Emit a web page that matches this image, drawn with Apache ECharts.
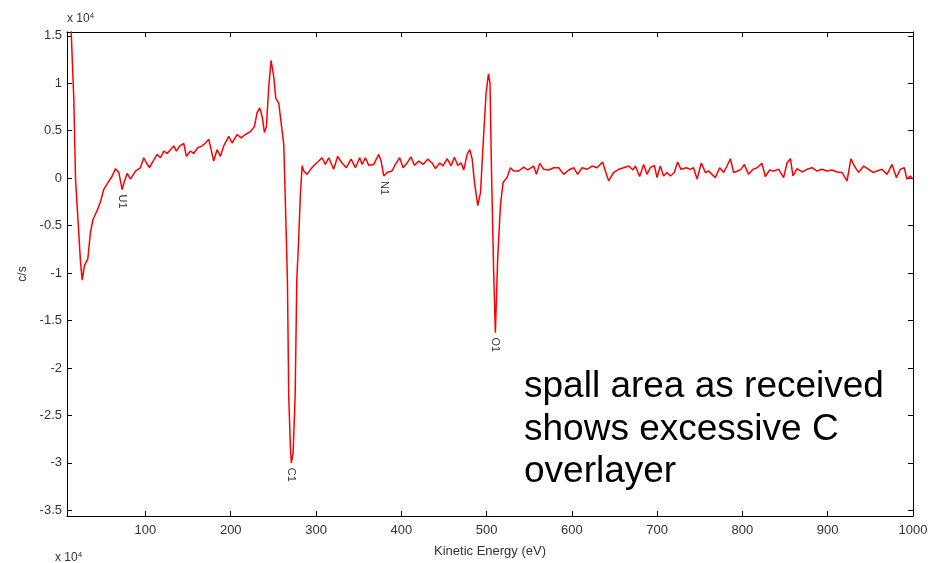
<!DOCTYPE html>
<html>
<head>
<meta charset="utf-8">
<script src="https://cdn.jsdelivr.net/npm/echarts@6.0.0/dist/echarts.min.js"></script>
<style>
	html, body {margin: 0; padding: 0; background: #fff;}
	#main {width: 945px; height: 563px;}
</style>
</head>
<body>
<div id="main"></div>
<script>
// kinetic energy (eV) and signal (c/s, x 10^4)
const energy = [
	12, 16, 18, 20.6, 23.8, 25.8, 28.5, 32.4, 35.5, 38.7, 43.4, 47.2, 51.1, 55, 60.9, 64.8, 68.7, 72.7, 75.4, 78.5,
	82.4, 88.3, 94.1, 98, 101.1, 104.8, 109, 113.7, 117.6, 121.5, 125.4, 129.3, 133.2, 136.3, 140.2, 144.9, 148, 152.7, 156.6, 161.3,
	166.5, 170.3, 174.2, 177, 180, 184, 187.9, 191.8, 197.7, 201.6, 207.5, 212.2, 217.2, 223.1, 227.8, 230.9, 234, 236.8, 239.5, 241.8,
	244.6, 247.3, 250.4, 252.8, 256.3, 258.2, 262.2, 264.8, 266.5, 268, 270, 271.1, 273.1, 275.5, 277.5, 279.7, 281.5, 283.7, 285.6, 289.5,
	293.4, 297.3, 303.2, 307, 310.9, 314.9, 320.7, 325.4, 330.5, 335.6, 341.1, 346.2, 351.2, 354, 357.9, 361.8, 367.7, 373.5, 376.3, 379.4,
	383.3, 389.1, 393, 398.1, 402.1, 406.8, 411.4, 415.4, 420.4, 425.5, 430.9, 436.1, 440, 445, 449, 453.7, 458.4, 462.3, 466.2, 470.2,
	473.2, 477.2, 480.3, 483.1, 485.8, 489.7, 492.9, 496.7, 499.4, 502.2, 504, 505.8, 508.3, 510.3, 513, 516.2, 519.3, 524, 527.9, 531.8,
	537.6, 543.5, 548.2, 555.2, 558.4, 562.3, 567, 572.8, 578.7, 584.5, 590.4, 596.3, 602.1, 606.8, 612, 617.8, 623.7, 629.5, 636.1, 639.3,
	643.2, 649, 654.9, 660.7, 666.6, 671.7, 674.4, 679.5, 684.2, 688.1, 692, 696.7, 699.8, 703.7, 707.6, 711.5, 715.4, 720.1, 724, 727.9,
	734.2, 738.8, 742.6, 746.8, 751.8, 756.5, 760.4, 764.3, 768.2, 773.3, 778, 781.9, 785.8, 789.7, 794.3, 798.3, 802.2, 807.2, 812.4, 817.1,
	822.9, 826.8, 831.9, 836.6, 842.5, 848.3, 852.3, 856.2, 859.3, 864, 869.9, 875.7, 881.6, 887.5, 893.3, 899.2, 905, 910.9, 916.8, 922.6,
	927.3, 931.2, 936.2, 942.1, 948, 953.1, 957.8, 963.6, 969.5, 975.4, 980.4, 985.1, 989.8, 992.9, 996.8, 1000
];
const counts = [
	1.75, 0.83, -0.01, -0.40, -0.88, -1.075, -0.92, -0.85, -0.57, -0.43, -0.34, -0.25, -0.12, -0.06, 0.02, 0.10, 0.06, -0.12, -0.03, 0.05,
	-0.01, 0.075, 0.11, 0.215, 0.16, 0.11, 0.18, 0.25, 0.215, 0.285, 0.26, 0.30, 0.34, 0.285, 0.34, 0.365, 0.23, 0.285, 0.26, 0.32,
	0.34, 0.37, 0.41, 0.30, 0.18, 0.30, 0.23, 0.34, 0.44, 0.37, 0.46, 0.425, 0.46, 0.49, 0.545, 0.69, 0.74, 0.65, 0.48, 0.545,
	0.965, 1.24, 1.07, 0.84, 0.79, 0.79, 0.35, -0.50, -1.1, -2.3, -2.85, -3.0, -2.9, -2.3, -1.06, -0.64, -0.2, 0.13, 0.075, 0.04,
	0.09, 0.13, 0.18, 0.215, 0.145, 0.215, 0.093, 0.23, 0.16, 0.11, 0.20, 0.11, 0.215, 0.145, 0.215, 0.135, 0.145, 0.25, 0.18, 0.023,
	0.06, 0.075, 0.145, 0.215, 0.11, 0.16, 0.225, 0.135, 0.18, 0.145, 0.20, 0.16, 0.10, 0.16, 0.13, 0.205, 0.13, 0.22, 0.135, 0.16,
	0.085, 0.25, 0.30, 0.20, -0.045, -0.29, -0.15, 0.48, 0.895, 1.10, 1.00, 0.06, -0.99, -1.63, -0.85, -0.29, -0.046, 0.006, 0.11, 0.075,
	0.075, 0.117, 0.086, 0.128, 0.04, 0.156, 0.093, 0.086, 0.11, 0.11, 0.04, 0.086, 0.11, 0.04, 0.11, 0.093, 0.128, 0.11, 0.17, 0.075,
	-0.03, 0.06, 0.093, 0.11, 0.128, 0.086, 0.128, 0.017, 0.145, 0.04, 0.11, 0.135, 0.006, 0.128, 0.023, 0.06, 0.023, 0.06, 0.17, 0.093,
	0.11, 0.093, 0.11, -0.01, 0.16, 0.06, 0.075, 0.04, 0.006, 0.11, 0.06, 0.128, 0.205, 0.06, 0.075, 0.093, 0.145, 0.04, 0.093, 0.11,
	0.156, 0.017, 0.086, 0.075, 0.093, 0.006, 0.16, 0.205, 0.023, 0.10, 0.065, 0.093, 0.11, 0.075, 0.093, 0.075, 0.086, 0.065, 0.06, -0.03,
	0.205, 0.128, 0.06, 0.128, 0.093, 0.06, 0.075, 0.093, 0.04, 0.145, 0.006, 0.093, 0.11, -0.01, 0.023, -0.01
];

// peak labels
const peakNames = ["U1", "C1", "N1", "O1"];
const peakEnergy = [72.7, 271.1, 379.4, 510.3];
const peakCounts = [-0.12, -3.0, 0.023, -1.63];

const xTicks = [100, 200, 300, 400, 500, 600, 700, 800, 900, 1000];
const yTicks = [-3.5, -3, -2.5, -2, -1.5, -1, -0.5, 0, 0.5, 1, 1.5];

const font = "Liberation Sans, Arial, sans-serif";
const tickColor = "#333";

function frameAxis(extra) {
	return Object.assign({
		type: 'value',
		axisLine: {show: true, onZero: false, lineStyle: {color: '#000', width: 1}},
		splitLine: {show: false},
	}, extra);
}

let myChart = echarts.init(document.getElementById('main'));
let option = {
	backgroundColor: '#fff',
	animation: false,
	grid: {left: 67, top: 32, right: 32, bottom: 42},
	xAxis: [
		frameAxis({
			min: 8, max: 1000,
			name: 'Kinetic Energy (eV)',
			nameLocation: 'middle',
			nameGap: 29,
			nameTextStyle: {fontFamily: font, fontSize: 13, color: tickColor},
			axisTick: {show: true, inside: true, length: 5, customValues: xTicks, lineStyle: {color: '#000'}},
			axisLabel: {show: true, customValues: xTicks, margin: 8, fontFamily: font, fontSize: 13, color: tickColor,
				formatter: v => String(v)},
		}),
		frameAxis({
			position: 'top', min: 8, max: 1000,
			axisTick: {show: true, inside: true, length: 5, customValues: xTicks, lineStyle: {color: '#000'}},
			axisLabel: {show: false},
		}),
	],
	yAxis: [
		frameAxis({
			min: -3.56, max: 1.54,
			name: 'c/s',
			nameLocation: 'middle',
			nameGap: 37,
			nameRotate: 90,
			nameTextStyle: {fontFamily: font, fontSize: 12, color: tickColor},
			axisTick: {show: true, inside: true, length: 5, customValues: yTicks, lineStyle: {color: '#000'}},
			axisLabel: {show: true, customValues: yTicks, margin: 5, fontFamily: font, fontSize: 13, color: tickColor},
		}),
		frameAxis({
			position: 'right', min: -3.56, max: 1.54,
			axisTick: {show: true, inside: true, length: 5, customValues: yTicks, lineStyle: {color: '#000'}},
			axisLabel: {show: false},
		}),
	],
	series: [{
		type: 'line',
		data: energy.map((e, i) => [e, counts[i]]),
		showSymbol: false,
		clip: true,
		lineStyle: {color: '#ff0000', width: 1.5},
		markPoint: {
			symbol: 'circle',
			symbolSize: 1,
			itemStyle: {color: 'rgba(0,0,0,0)'},
			label: {
				// offset is turned with the text, so x here means "down"
				show: true, position: 'inside', rotate: -90, offset: [12, 0],
				formatter: '{b}', fontFamily: font, fontSize: 11, color: tickColor
			},
			data: peakNames.map((n, i) => ({name: n, coord: [peakEnergy[i], peakCounts[i]]}))
		}
	}],
	graphic: [
		{
			type: 'text', left: 67, top: 12,
			style: {
				text: 'x 10{sup|4}', fontFamily: font, fontSize: 12, fill: tickColor,
				rich: {sup: {fontSize: 8, verticalAlign: 'top', padding: [0, 0, 6, 0], fill: tickColor}}
			}
		},
		{
			type: 'text', left: 55, top: 551,
			style: {
				text: 'x 10{sup|4}', fontFamily: font, fontSize: 12, fill: tickColor,
				rich: {sup: {fontSize: 8, verticalAlign: 'top', padding: [0, 0, 6, 0], fill: tickColor}}
			}
		},
		{
			type: 'text', left: 524, top: 366,
			style: {
				text: 'spall area as received\nshows excessive C\noverlayer',
				fontFamily: font, fontSize: 37, lineHeight: 42.5, fill: '#000'
			}
		}
	]
};
myChart.setOption(option);
</script>
</body>
</html>
